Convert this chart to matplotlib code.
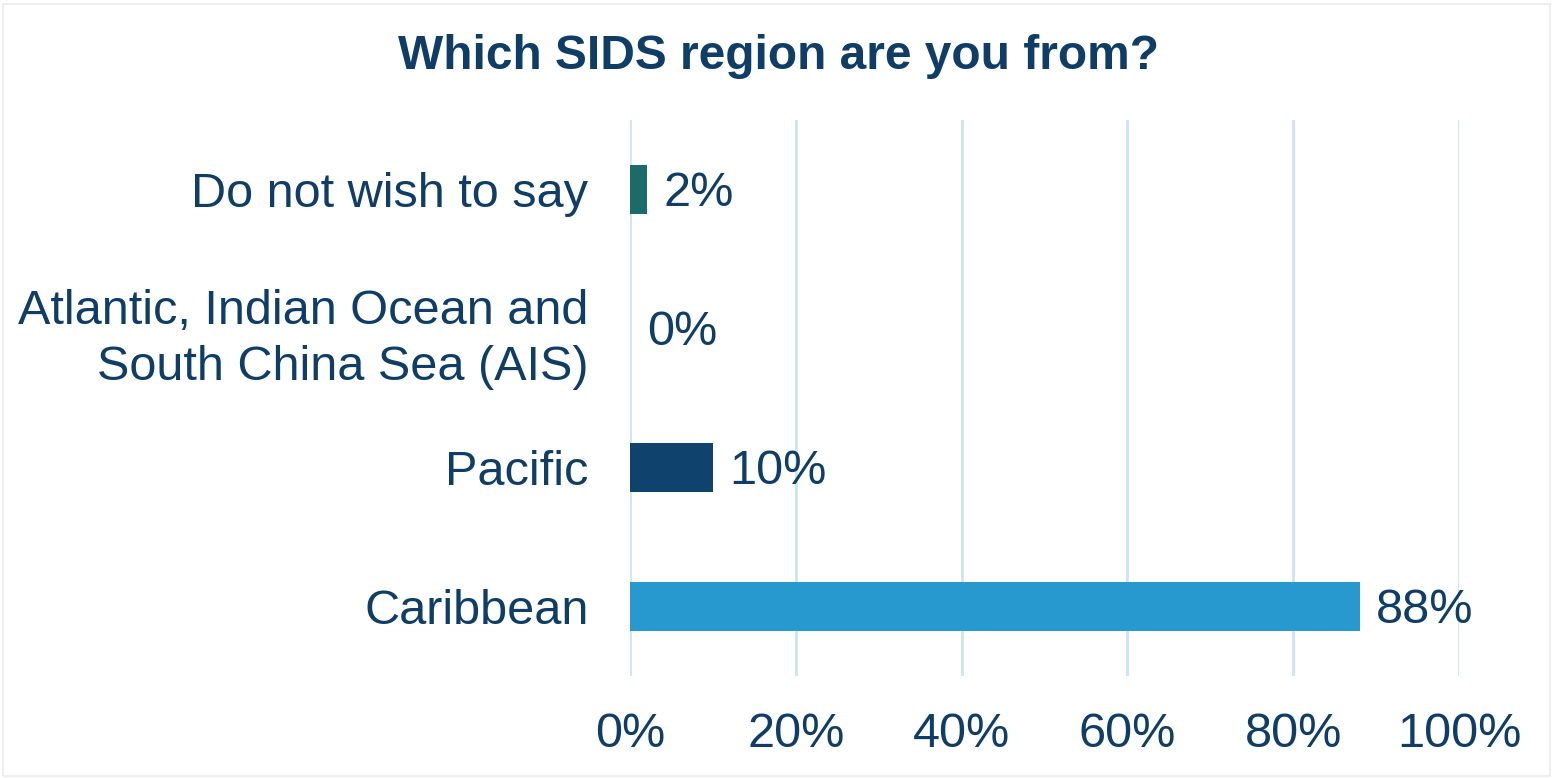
import matplotlib
matplotlib.use('Agg')
import matplotlib.pyplot as plt
from matplotlib.patches import Rectangle

categories = ['Caribbean', 'Pacific', 'Atlantic, Indian Ocean and\nSouth China Sea (AIS)', 'Do not wish to say']
values = [88, 10, 0, 2]
colors = ['#2899cf', '#0f426d', '#0f426d', '#1c6b6b']
ticks = [0, 20, 40, 60, 80, 100]
tick_labels = ['0%', '20%', '40%', '60%', '80%', '100%']

text_col = '#0f3d66'
plt.rcParams['font.family'] = ['Liberation Sans', 'DejaVu Sans']

fig = plt.figure(figsize=(15.53, 7.78), dpi=100)
ax = fig.add_axes([0.4057, 0.131, 0.5338, 0.7148])

y = range(len(categories))
ax.barh(y, values, height=0.35, color=colors, zorder=3)
for yi, v in zip(y, values):
    ax.annotate(f'{v}%', (v, yi), xytext=(12, -3), textcoords='offset points',
                va='center', ha='left', fontsize=35, color=text_col)

ax.set_xlim(0, 100)
ax.set_ylim(-0.5, len(categories) - 0.5)
ax.set_xticks(ticks)
ax.set_xticklabels(tick_labels, fontsize=35, color=text_col)
ax.set_yticks(list(y))
ax.set_yticklabels(categories, fontsize=35, color=text_col, linespacing=1.32)
ax.tick_params(axis='both', length=0)
ax.tick_params(axis='x', pad=26)
ax.tick_params(axis='y', pad=30)
ax.grid(axis='x', color='#cce6f1', lw=2, zorder=0)
for s in ax.spines.values():
    s.set_visible(False)

fig.text(0.501, 0.927, 'Which SIDS region are you from?', ha='center', va='center',
         fontsize=34.5, fontweight='bold', color=text_col)
fig.patches.append(Rectangle((0.002, 0.003), 0.996, 0.992, transform=fig.transFigure,
                             fill=False, edgecolor='#ebebeb', lw=1.2))

fig.savefig('out.png', dpi=100)
